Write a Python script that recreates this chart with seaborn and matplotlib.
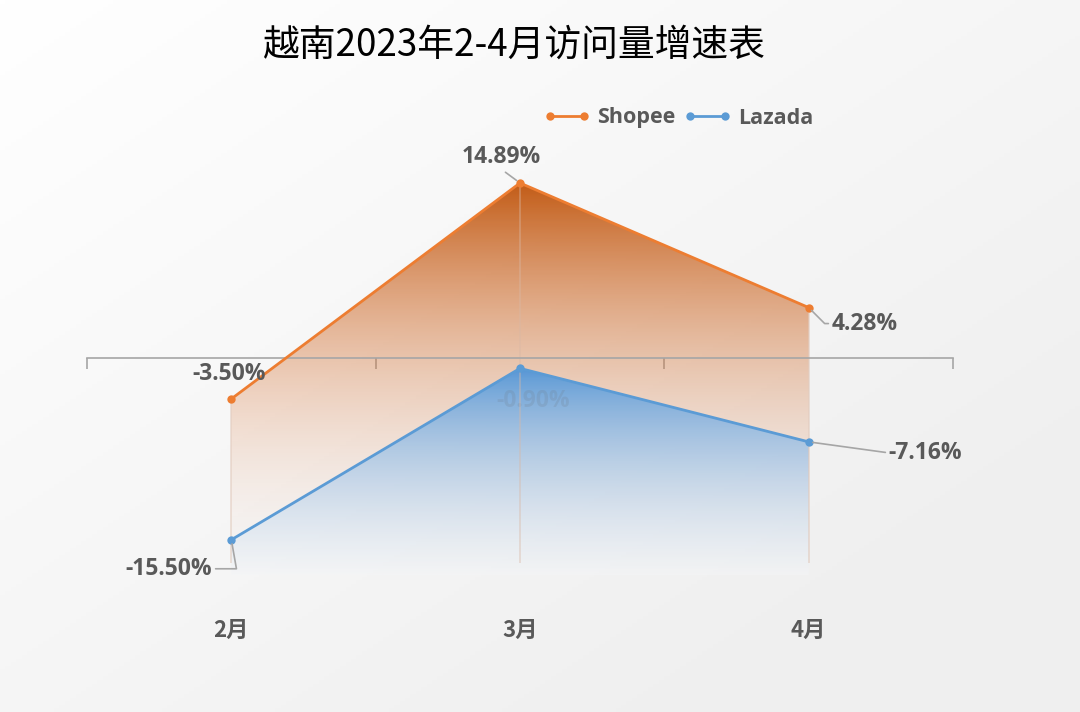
import numpy as np
import pandas as pd
import seaborn as sns
import matplotlib.pyplot as plt
from matplotlib.lines import Line2D

months = ['2月', '3月', '4月']
shopee = [-3.50, 14.89, 4.28]
lazada = [-15.50, -0.90, -7.16]
title = '越南2023年2-4月访问量增速表'

ORANGE = '#ED7D31'
BLUE = '#5B9BD5'
GREY_TXT = '#595959'
YMIN, YMAX = -18.5, 20.0

sns.set_theme(style='white')
plt.rcParams['font.family'] = ['Open Sans', 'Noto Sans CJK SC', 'DejaVu Sans']

df = pd.DataFrame({
    'month': months * 2,
    'value': shopee + lazada,
    'platform': ['Shopee'] * 3 + ['Lazada'] * 3,
})

fig = plt.figure(figsize=(10.8, 7.12), dpi=100)

# light diagonal background
bg = fig.add_axes([0, 0, 1, 1], zorder=-10)
gx, gy = np.meshgrid(np.linspace(0, 1, 200), np.linspace(0, 1, 200))
shade = 1.0 - 0.06 * np.clip((gx + gy) / 1.6, 0, 1)
bg.imshow(np.dstack([shade, shade, shade]), extent=[0, 1, 0, 1], aspect='auto')
bg.axis('off')

ax = fig.add_axes([87 / 1080, 137 / 712, 866 / 1080, 452 / 712])
ax.patch.set_alpha(0)

xs = np.arange(len(months))


def gradient_fill(values, top_rgb, bot_rgb, y_full, y_zero, a_pow, c_pow, a_min, z):
    poly = ax.fill_between(xs, values, YMIN, color='none', lw=0, zorder=z)
    yy = np.linspace(YMAX, YMIN, 400)
    a = a_min + (1 - a_min) * np.clip((yy - y_zero) / (y_full - y_zero), 0, 1) ** a_pow
    t = np.clip((y_full - yy) / (y_full - y_zero), 0, 1) ** c_pow
    rgb = np.array(top_rgb) / 255 * (1 - t[:, None]) + np.array(bot_rgb) / 255 * t[:, None]
    img = np.concatenate([rgb, a[:, None]], axis=1)[:, None, :].repeat(4, axis=1)
    im = ax.imshow(img, extent=[-0.5, 2.5, YMIN, YMAX], aspect='auto',
                   zorder=z, interpolation='bilinear')
    im.set_clip_path(poly.get_paths()[0], transform=ax.transData)


gradient_fill(shopee, (192, 86, 14), (237, 150, 100), 15.5, -19.0, 1.6, 1.0, 0.0, 1)
gradient_fill(lazada, (85, 150, 214), (244, 245, 247), -1.0, -18.5, 1.0, 0.75, 0.55, 2)

# the -0.90% label is almost hidden behind the blue area
ax.annotate('-0.90%', (1, lazada[1]), xytext=(13, -33), textcoords='offset pixels',
            ha='center', va='center', fontsize=16.5, fontweight='bold',
            color='#6F7F90', alpha=0.22, zorder=2.4)

# faint vertical edges of the areas
ax.vlines(xs, YMIN + 1.0, shopee, colors='#D9B8A5', lw=1.2, alpha=0.45, zorder=2.5)

sns.lineplot(data=df, x='month', y='value', hue='platform',
             palette={'Shopee': ORANGE, 'Lazada': BLUE}, marker='o',
             markersize=6, markeredgewidth=0, linewidth=2, legend=False,
             ax=ax, zorder=5)

ax.set_xlim(-0.5, 2.5)
ax.set_ylim(YMIN, YMAX)

# zero axis with boundary ticks
for s in ['top', 'right', 'left']:
    ax.spines[s].set_visible(False)
ax.spines['bottom'].set_position(('data', 0))
ax.spines['bottom'].set_color('#A6A6A6')
ax.spines['bottom'].set_linewidth(1.2)
ax.set_xticks([-0.5, 0.5, 1.5, 2.5])
ax.set_xticklabels([])
ax.tick_params(axis='x', direction='out', length=8, width=1.2, color='#A6A6A6', bottom=True)
ax.set_yticks([])
ax.set_xlabel('')
ax.set_ylabel('')

for i, m in enumerate(months):
    ax.text(i, -55 / 452, m, transform=ax.get_xaxis_transform(), ha='center', va='center',
            fontsize=16, fontweight='bold', color=GREY_TXT,
            family=['Noto Sans CJK SC', 'DejaVu Sans'])

lbl = dict(fontsize=16.5, fontweight='bold', color=GREY_TXT, zorder=6,
           textcoords='offset pixels', va='center')
leader = dict(arrowstyle='-', color='#A6A6A6', lw=1.2, shrinkA=0, shrinkB=3)

ax.annotate('-3.50%', (0, shopee[0]), xytext=(-2, 25), ha='center', **lbl)
ax.annotate('14.89%', (1, shopee[1]), xytext=(-19, 26), ha='center',
            arrowprops=dict(leader, relpos=(0.5, 0.0)), **lbl)
ax.annotate('4.28%', (2, shopee[2]), xytext=(23, -16), ha='left',
            arrowprops=dict(leader, connectionstyle='angle,angleA=0,angleB=-45',
                            relpos=(0.0, 0.5)), **lbl)
ax.annotate('-7.16%', (2, lazada[2]), xytext=(80, -11), ha='left',
            arrowprops=dict(leader, relpos=(0.0, 0.5)), **lbl)
ax.annotate('-15.50%', (0, lazada[0]), xytext=(-19, -29), ha='right',
            arrowprops=dict(leader, connectionstyle='angle,angleA=0,angleB=-80',
                            relpos=(1.0, 0.5)), **lbl)

handles = [Line2D([0], [0], color=c, lw=2, marker='o', markersize=6,
                  markeredgewidth=0) for c in (ORANGE, BLUE)]
leg = fig.legend(handles, ['Shopee', 'Lazada'], loc='center', ncol=2,
                 bbox_to_anchor=(678 / 1080, 1 - 118 / 712), frameon=False,
                 numpoints=2, handlelength=2.2, handletextpad=0.3, columnspacing=0.4,
                 prop={'size': 15.5, 'weight': 'bold', 'family': 'Open Sans'})
for t in leg.get_texts():
    t.set_color(GREY_TXT)

fig.text(0.475, 1 - 45 / 712, title, ha='center', va='center', fontsize=26.5,
         color='black', fontweight='medium', family=['Noto Sans CJK SC', 'DejaVu Sans'])

fig.savefig('out.png', dpi=100)
